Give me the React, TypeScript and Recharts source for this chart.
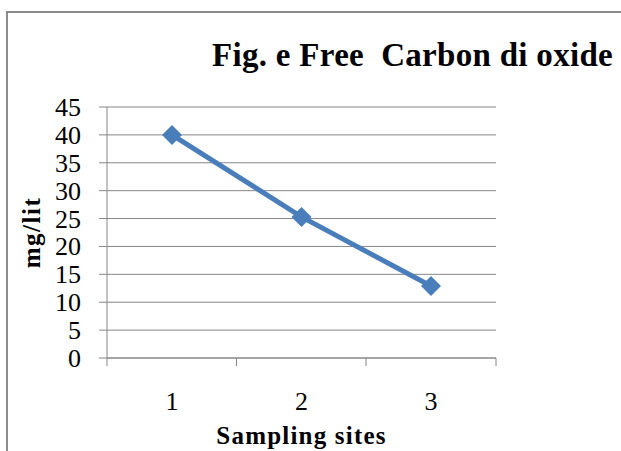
import React from 'react'
import { LineChart, Line, XAxis, YAxis, CartesianGrid } from 'recharts'

const sites = ['1', '2', '3']
const co2Values = [40, 25.3, 12.9]
const yTicks = [0, 5, 10, 15, 20, 25, 30, 35, 40, 45]

const data = sites.map((site, i) => ({ site, value: co2Values[i] }))

const SERIF = '"Liberation Serif", "Times New Roman", Times, serif'
const GRID = '#868686'
const BLUE = '#4A7EBB'
const HALF_STEP = 65

function Diamond(props: any) {
  const { cx, cy } = props
  if (cx == null || cy == null) return null
  const r = 10
  return (
    <polygon
      points={`${cx},${cy - r} ${cx + r},${cy} ${cx},${cy + r} ${cx - r},${cy}`}
      fill={BLUE}
    />
  )
}

// category labels sit mid-band, tick marks on the band edges
function SiteTick(props: any) {
  const { x, y, payload, index, visibleTicksCount } = props
  const last = index === visibleTicksCount - 1
  return (
    <g>
      <line x1={x - HALF_STEP} x2={x - HALF_STEP} y1={y} y2={y + 8} stroke={GRID} />
      {last && <line x1={x + HALF_STEP} x2={x + HALF_STEP} y1={y} y2={y + 8} stroke={GRID} />}
      <text x={x} y={y + 52} textAnchor="middle" fill="#000" style={{ fontSize: 26, fontFamily: SERIF }}>
        {payload.value}
      </text>
    </g>
  )
}

function YTick(props: any) {
  const { x, y, payload } = props
  return (
    <text x={x} y={y} dy={9} textAnchor="end" fill="#000" style={{ fontSize: 26, fontFamily: SERIF }}>
      {payload.value}
    </text>
  )
}

function XTitle(props: any) {
  const { x, y, width } = props.viewBox
  return (
    <text
      x={x + width / 2}
      y={y + 86}
      textAnchor="middle"
      fill="#000"
      style={{ fontSize: 25, fontWeight: 'bold', fontFamily: SERIF, letterSpacing: 1.2 }}
    >
      Sampling sites
    </text>
  )
}

function YTitle(props: any) {
  const { y, height } = props.viewBox
  const cy = y + height / 2
  return (
    <text
      x={31}
      y={cy}
      transform={`rotate(-90, 31, ${cy})`}
      textAnchor="middle"
      dominantBaseline="central"
      fill="#000"
      style={{ fontSize: 25, fontWeight: 'bold', fontFamily: SERIF, letterSpacing: 1.5 }}
    >
      mg/lit
    </text>
  )
}

export default function App() {
  return (
    <div
      style={{
        position: 'absolute',
        left: 0,
        top: 0,
        width: 621,
        height: 451,
        overflow: 'hidden',
        background: '#fff',
      }}
    >
      <div
        style={{
          position: 'absolute',
          left: 6,
          top: 11,
          width: 700,
          height: 500,
          border: '2px solid #8c8c8c',
          boxSizing: 'border-box',
        }}
      />
      <svg width={621} height={451} style={{ position: 'absolute', left: 0, top: 0 }}>
        <text
          x={212}
          y={66}
          fill="#000"
          style={{ fontSize: 33, fontWeight: 'bold', fontFamily: SERIF, letterSpacing: 0.3, whiteSpace: 'pre' }}
        >
          Fig. e Free  Carbon di oxide
        </text>
      </svg>
      <div style={{ position: 'absolute', left: 0, top: 0 }}>
        <LineChart
          width={621}
          height={451}
          data={data}
          margin={{ top: 107, right: 125, bottom: 0, left: 0 }}
        >
          <CartesianGrid horizontal vertical={false} stroke={GRID} strokeWidth={1} />
          <XAxis
            dataKey="site"
            height={93}
            padding={{ left: HALF_STEP, right: HALF_STEP }}
            axisLine={{ stroke: GRID }}
            tickLine={false}
            tickSize={0}
            tickMargin={0}
            tick={<SiteTick />}
            interval={0}
            label={<XTitle />}
          />
          <YAxis
            width={107}
            domain={[0, 45]}
            ticks={yTicks}
            interval={0}
            axisLine={{ stroke: GRID }}
            tickLine={{ stroke: GRID }}
            tickSize={8}
            tickMargin={18}
            tick={<YTick />}
            label={<YTitle />}
          />
          <Line
            dataKey="value"
            stroke={BLUE}
            strokeWidth={5}
            dot={<Diamond />}
            activeDot={false}
            isAnimationActive={false}
          />
        </LineChart>
      </div>
    </div>
  )
}
